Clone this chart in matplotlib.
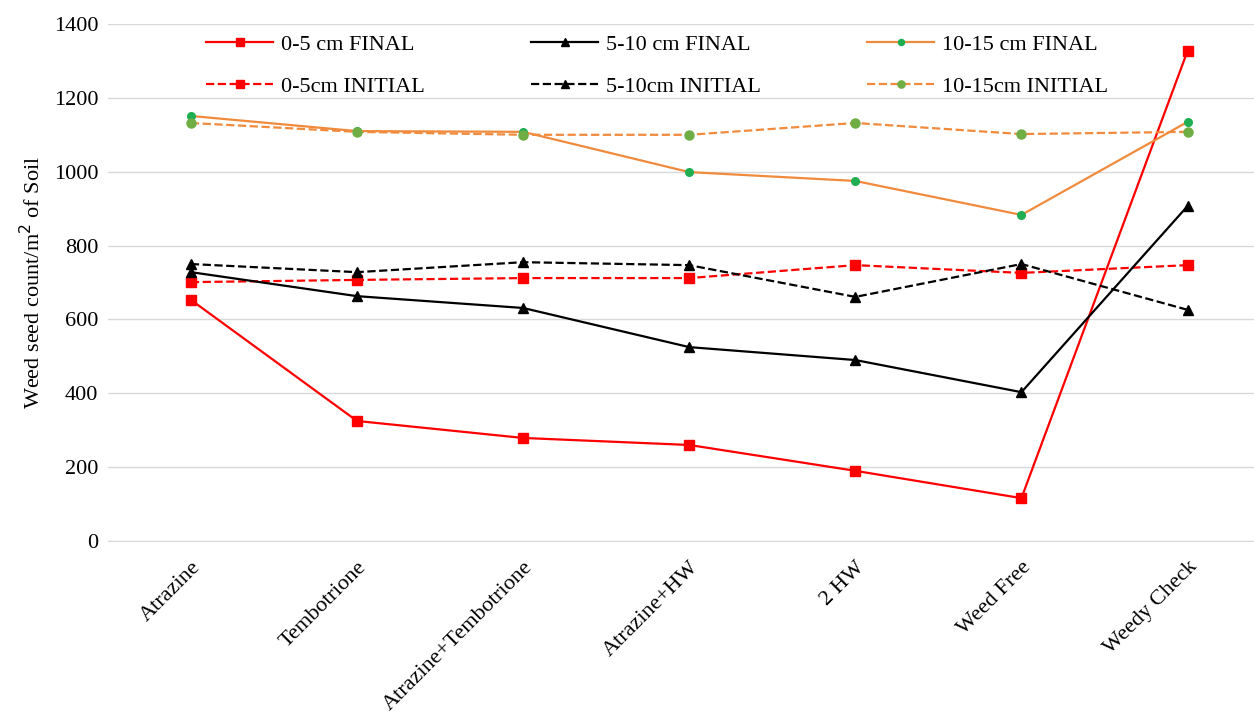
from matplotlib import pyplot as plt
import numpy as np

plt.rcParams['font.family'] = ['Liberation Serif', 'DejaVu Serif']

treatments = ["Atrazine", "Tembotrione", "Atrazine+Tembotrione", "Atrazine+HW", "2 HW", "Weed Free", "Weedy Check"]

final_0_5 = np.array([653, 325, 279, 260, 190, 116, 1327], dtype=float)
final_5_10 = np.array([728, 663, 631, 525, 490, 403, 907], dtype=float)
final_10_15 = np.array([1151, 1110, 1108, 999, 975, 883, 1135], dtype=float)
init_0_5 = np.array([701, 707, 712, 712, 747, 726, 747], dtype=float)
init_5_10 = np.array([750, 728, 755, 747, 661, 750, 626], dtype=float)
init_10_15 = np.array([1132, 1108, 1100, 1100, 1132, 1102, 1108], dtype=float)

x = np.arange(len(treatments))

fig = plt.figure(figsize=(12.54, 7.17), dpi=100)
ax = fig.add_axes([0.086, 0.2455, 0.914, 0.721])

# order chosen so the 3-column legend reads FINAL on row 1, INITIAL on row 2
ax.plot(x, final_0_5, '-s', color='#ff0000', lw=1.6, ms=7, label='0-5 cm FINAL')
ax.plot(x, init_0_5, '--s', color='#ff0000', lw=1.6, ms=7, label='0-5cm INITIAL')
ax.plot(x, final_5_10, '-^', color='black', lw=1.6, ms=6.5, label='5-10 cm FINAL')
ax.plot(x, init_5_10, '--^', color='black', lw=1.6, ms=6.5, label='5-10cm INITIAL')
ax.plot(x, final_10_15, '-o', color='#f08a3c', lw=1.6, ms=5.5, mfc='#1fae52', mec='#1fae52', label='10-15 cm FINAL')
ax.plot(x, init_10_15, '--o', color='#f08a3c', lw=1.6, ms=6.5, mfc='#6fae45', mec='#6fae45', label='10-15cm INITIAL')

ax.set_ylim(0, 1400)
ax.set_yticks(np.arange(0, 1401, 200))
ax.set_xlim(-0.5, 6.4)
ax.set_xticks(x)
ax.set_xticklabels(treatments, rotation=45, ha='right', rotation_mode='anchor')
ax.set_ylabel("Weed seed count/m$^2$ of Soil", fontsize=16, labelpad=6)
ax.tick_params(axis='both', labelsize=16, length=0)
ax.tick_params(axis='y', pad=7)
ax.tick_params(axis='x', pad=12)

ax.grid(axis='y', color='#d9d9d9', lw=1)
ax.set_axisbelow(True)
for s in ['top', 'right', 'left']:
    ax.spines[s].set_visible(False)
ax.spines['bottom'].set_color('#d9d9d9')

ax.legend(ncol=3, loc='upper left', bbox_to_anchor=(0.086, 0.980), frameon=False,
          fontsize=16, columnspacing=4.8, handlelength=3.0, handletextpad=0.35,
          labelspacing=0.95, borderpad=0, borderaxespad=0, markerscale=0.8)

plt.savefig('out.png', dpi=100)
